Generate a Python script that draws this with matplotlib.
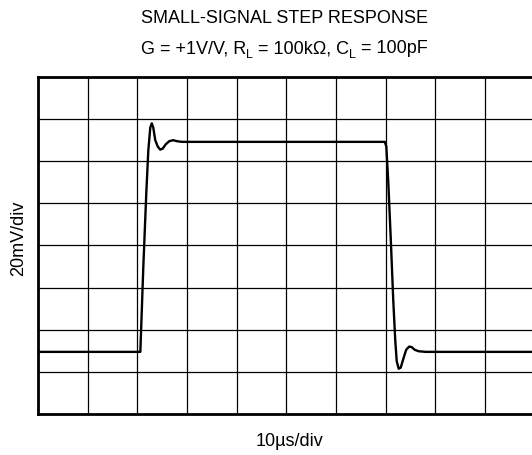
import matplotlib.pyplot as plt

plt.rcParams['font.family'] = ['Liberation Sans', 'DejaVu Sans']

# waveform (time in us, output in mV)
t_us = [0, 20.6, 21.2, 21.8, 22.2, 22.6, 22.9, 23.2, 23.6, 24.1, 24.6, 25.1,
        25.7, 26.4, 27.2, 28.0, 29.0,
        69.8, 70.1, 70.5, 71.0, 71.5, 71.9, 72.2, 72.6, 73.0, 73.5, 74.1,
        74.7, 75.2, 75.8, 76.6, 78.0, 100]
v_mv = [29.5, 29.5, 70, 105, 125, 136, 138, 136, 130, 127, 125.5, 126,
        128, 129.5, 130, 129.5, 129.2,
        129.2, 127, 110, 83, 54, 35, 25, 21.5, 22, 26, 30.5,
        32, 31.8, 30.5, 29.8, 29.5, 29.5]

x_ticks = list(range(0, 101, 10))
y_ticks = list(range(0, 161, 20))

# subtitle pieces: (text, is_subscript)
subtitle = [('G = +1V/V, R', False), ('L', True), (' = 100kΩ, C', False),
            ('L', True), (' = 100pF', False)]

fig = plt.figure(figsize=(5.32, 4.55), dpi=100)
ax = fig.add_axes([0.0714, 0.0901, 0.934, 0.7407])

# scope graticule
for xv in x_ticks:
    ax.axvline(xv, color='black', lw=0.9, zorder=1)
for yv in y_ticks:
    ax.axhline(yv, color='black', lw=0.9, zorder=1)

ax.plot(t_us, v_mv, color='black', lw=1.7, zorder=3, solid_joinstyle='round')

ax.set_xlim(0, 100)
ax.set_ylim(0, 160)
ax.set_xticks([])
ax.set_yticks([])
for s in ax.spines.values():
    s.set_linewidth(2)
    s.set_color('black')

fig.text(0.544, 0.0198, '10µs/div', ha='center', va='baseline', fontsize=13)
fig.text(0.0357, 0.476, '20mV/div', ha='center', va='center', rotation=90, fontsize=13)

fig.text(0.535, 0.9495, 'SMALL-SIGNAL STEP RESPONSE', ha='center', va='baseline', fontsize=13)

# subtitle laid out piece by piece so the subscripts sit low like the original
renderer = fig.canvas.get_renderer()
base_y = 0.8835
sub_drop = 5 / 455
texts = []
for s, is_sub in subtitle:
    t = fig.text(0, base_y - (sub_drop if is_sub else 0), s, ha='left', va='baseline',
                 fontsize=9 if is_sub else 13)
    texts.append(t)
widths = [t.get_window_extent(renderer).width / fig.bbox.width for t in texts]
x = 0.535 - sum(widths) / 2
for t, w in zip(texts, widths):
    t.set_x(x)
    x += w

fig.savefig('out.png', dpi=100)
